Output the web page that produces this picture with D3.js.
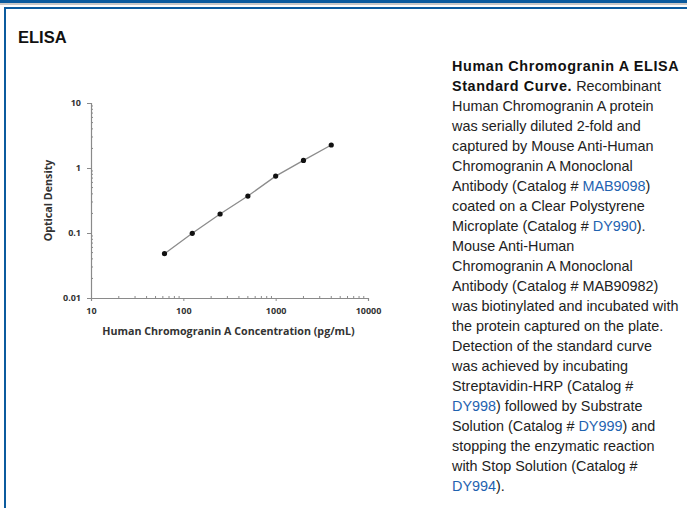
<!DOCTYPE html>
<html>
<head>
<meta charset="utf-8">
<script src="https://cdn.jsdelivr.net/npm/d3@7"></script>
<style>
  body { margin: 0; background: #fff; }
  svg { display: block; }
</style>
</head>
<body>
<div id="chart"></div>
<script>
// standard curve data
var concentrations = [62.5, 125, 250, 500, 1000, 2000, 4000];
var densities = [0.048, 0.099, 0.196, 0.37, 0.75, 1.31, 2.26];
var xTickValues = [10, 100, 1000, 10000];
var yTickValues = [0.01, 0.1, 1, 10];

var caption = [
  [["Human Chromogranin A ELISA", "b"]],
  [["Standard Curve.", "b"], [" Recombinant", ""]],
  [["Human Chromogranin A protein", ""]],
  [["was serially diluted 2-fold and", ""]],
  [["captured by Mouse Anti-Human", ""]],
  [["Chromogranin A Monoclonal", ""]],
  [["Antibody (Catalog # ", ""], ["MAB9098", "a"], [")", ""]],
  [["coated on a Clear Polystyrene", ""]],
  [["Microplate (Catalog # ", ""], ["DY990", "a"], [").", ""]],
  [["Mouse Anti-Human", ""]],
  [["Chromogranin A Monoclonal", ""]],
  [["Antibody (Catalog # MAB90982)", ""]],
  [["was biotinylated and incubated with", ""]],
  [["the protein captured on the plate.", ""]],
  [["Detection of the standard curve", ""]],
  [["was achieved by incubating", ""]],
  [["Streptavidin-HRP (Catalog #", ""]],
  [["DY998", "a"], [") followed by Substrate", ""]],
  [["Solution (Catalog # ", ""], ["DY999", "a"], [") and", ""]],
  [["stopping the enzymatic reaction", ""]],
  [["with Stop Solution (Catalog #", ""]],
  [["DY994", "a"], [").", ""]]
];

var w = 687, h = 508;

var svg = d3.select("#chart").append("svg")
    .attr("width", w)
    .attr("height", h);

// page frame
svg.append("rect").attr("x", 0).attr("y", 0).attr("width", w).attr("height", 3).attr("fill", "#0b5b9e");
svg.append("rect").attr("x", 0).attr("y", 3).attr("width", w).attr("height", 2).attr("fill", "#c8c8c8");
svg.append("rect").attr("x", 4).attr("y", 7).attr("width", w).attr("height", 2).attr("fill", "#0b5b9e");
svg.append("rect").attr("x", 4).attr("y", 7).attr("width", 2).attr("height", h).attr("fill", "#0b5b9e");

svg.append("text")
    .attr("x", 18).attr("y", 43)
    .attr("font-family", "Liberation Sans, Arial, sans-serif")
    .attr("font-size", "16.5px")
    .attr("font-weight", "bold")
    .attr("fill", "#111")
    .text("ELISA");

// chart
var x = d3.scaleLog().domain([10, 10000]).range([91, 368]);
var y = d3.scaleLog().domain([0.01, 10]).range([298, 103]);

var axisColor = "#8a8a8a";
var g = svg.append("g");

// minor ticks
var xMinor = [];
[10, 100, 1000].forEach(function(d) {
  for (var k = 2; k <= 9; k++) xMinor.push(d * k);
});
var yMinor = [];
[0.01, 0.1, 1].forEach(function(d) {
  for (var k = 2; k <= 9; k++) yMinor.push(d * k);
});

g.selectAll("line.xminor").data(xMinor).enter().append("line")
    .attr("class", "xminor")
    .attr("x1", function(d) { return x(d); })
    .attr("x2", function(d) { return x(d); })
    .attr("y1", y(0.01) - 2).attr("y2", y(0.01))
    .attr("stroke", axisColor).attr("stroke-width", 1);

g.selectAll("line.yminor").data(yMinor).enter().append("line")
    .attr("class", "yminor")
    .attr("y1", function(d) { return y(d); })
    .attr("y2", function(d) { return y(d); })
    .attr("x1", x(10)).attr("x2", x(10) + 2)
    .attr("stroke", axisColor).attr("stroke-width", 1);

var xAxis = d3.axisBottom(x).tickValues(xTickValues).tickSize(3).tickPadding(7)
    .tickFormat(d3.format("d"));
var yAxis = d3.axisLeft(y).tickValues(yTickValues).tickSize(4).tickPadding(6)
    .tickFormat(function(d) { return d; });

var gx = g.append("g").attr("transform", "translate(0," + y(0.01) + ")").call(xAxis);
var gy = g.append("g").attr("transform", "translate(" + x(10) + ",0)").call(yAxis);

[gx, gy].forEach(function(a) {
  a.select(".domain").attr("stroke", axisColor).attr("stroke-width", 1.2);
  a.selectAll(".tick line").attr("stroke", axisColor);
  a.selectAll(".tick text")
      .attr("fill", "#333")
      .attr("font-family", "Open Sans, sans-serif")
      .attr("font-weight", "bold")
      .attr("font-size", "9px");
});

// curve
var line = d3.line()
    .x(function(d, i) { return x(concentrations[i]); })
    .y(function(d) { return y(d); });

g.append("path")
    .datum(densities)
    .attr("d", line)
    .attr("fill", "none")
    .attr("stroke", "#8c8c8c")
    .attr("stroke-width", 1.3);

g.selectAll("circle").data(densities).enter().append("circle")
    .attr("cx", function(d, i) { return x(concentrations[i]); })
    .attr("cy", function(d) { return y(d); })
    .attr("r", 2.6)
    .attr("fill", "#111");

// axis titles
g.append("text")
    .attr("x", (x(10) + x(10000)) / 2 - 1).attr("y", 335)
    .attr("text-anchor", "middle")
    .attr("font-family", "Open Sans, sans-serif")
    .attr("font-weight", "bold")
    .attr("font-size", "10.7px")
    .attr("fill", "#333")
    .text("Human Chromogranin A Concentration (pg/mL)");

g.append("text")
    .attr("transform", "translate(52," + (y(0.01) + y(10)) / 2 + ") rotate(-90)")
    .attr("text-anchor", "middle")
    .attr("font-family", "Open Sans, sans-serif")
    .attr("font-weight", "bold")
    .attr("font-size", "10.7px")
    .attr("fill", "#333")
    .text("Optical Density");

// caption text
var cap = svg.append("text")
    .attr("font-family", "Liberation Sans, Arial, sans-serif")
    .attr("font-size", "14.4px")
    .attr("fill", "#222");

caption.forEach(function(parts, i) {
  var t = cap.append("tspan").attr("x", 452).attr("y", 71 + i * 20);
  parts.forEach(function(p, j) {
    var s = j === 0 ? t : cap.append("tspan");
    s.text(p[0]);
    if (p[1] === "b") s.attr("font-weight", "bold").attr("fill", "#111").attr("letter-spacing", "0.6px");
    if (p[1] === "a") s.attr("fill", "#1f63b0");
  });
});
</script>
</body>
</html>
